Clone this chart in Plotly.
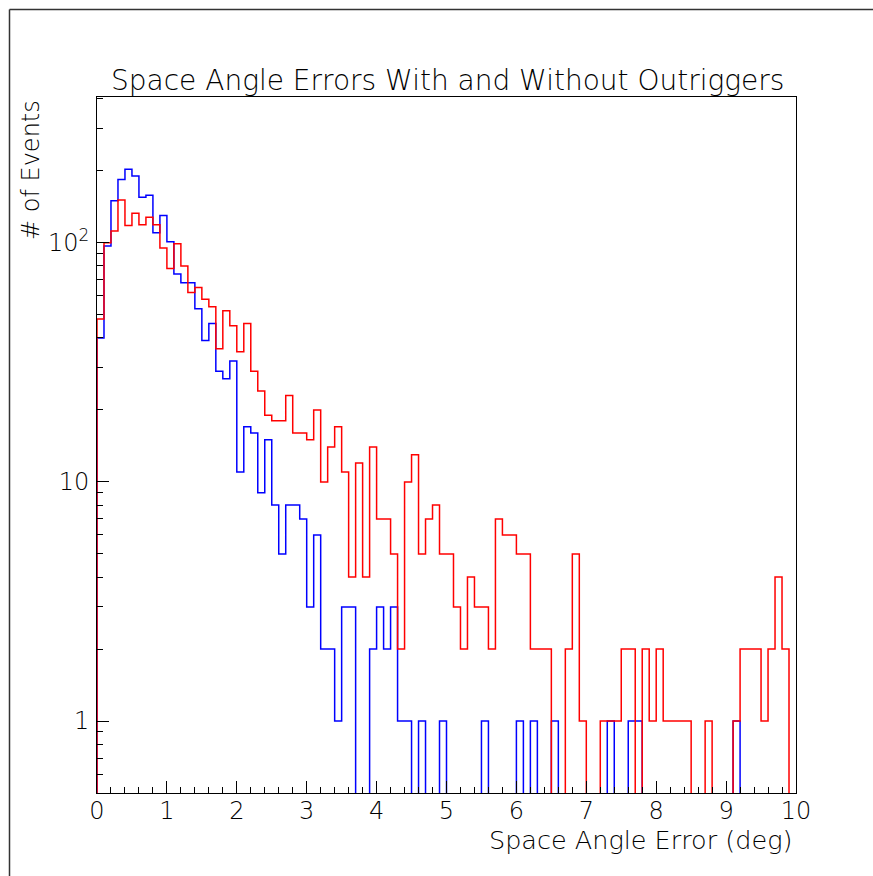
import numpy as np
import plotly.graph_objects as go

# ---- data (counts per 0.1 deg bin, 0..10 deg) ----
X_MIN, X_MAX, N_BINS = 0.0, 10.0, 100

without_outriggers = [  # blue
    40, 97, 150, 184, 203, 190, 155, 158, 110, 130,
    101, 74, 68, 68, 53, 39, 46, 29, 27, 32,
    11, 17, 16, 9, 15, 8, 5, 8, 8, 7,
    3, 6, 2, 2, 1, 3, 3, 0, 0, 2,
    3, 2, 3, 1, 1, 0, 1, 0, 0, 1,
    0, 0, 0, 0, 0, 1, 0, 0, 0, 0,
    1, 0, 1, 0, 0, 1, 0, 0, 0, 0,
    0, 0, 0, 1, 0, 0, 1, 1, 0, 0,
    0, 0, 0, 0, 0, 0, 0, 0, 0, 0,
    0, 1, 0, 0, 0, 0, 0, 0, 0, 0,
]

with_outriggers = [  # red
    48, 100, 112, 151, 118, 133, 119, 128, 119, 95,
    78, 99, 80, 62, 65, 58, 54, 36, 52, 45,
    35, 46, 29, 24, 19, 18, 18, 23, 16, 16,
    15, 20, 10, 14, 17, 11, 4, 12, 4, 14,
    7, 7, 5, 2, 10, 13, 5, 7, 8, 5,
    5, 3, 2, 4, 3, 3, 2, 7, 6, 6,
    5, 5, 2, 2, 2, 0, 0, 2, 5, 1,
    0, 0, 1, 1, 1, 2, 2, 0, 2, 1,
    2, 1, 1, 1, 1, 0, 0, 1, 0, 0,
    0, 1, 2, 2, 2, 1, 2, 4, 2, 0,
]

y_tick_vals = [1, 10, 100]
y_tick_text = ["1", "10", "10<sup>2</sup>"]
Y_MIN, Y_MAX = 0.5, 407.0

edges = np.linspace(X_MIN, X_MAX, N_BINS + 1)
FLOOR = 1e-3  # empty bins fall below the visible log range


def step_xy(counts):
    vals = [c if c > 0 else FLOOR for c in counts]
    xs = [edges[0]] + list(edges[:-1]) + [edges[-1], edges[-1]]
    ys = [FLOOR] + vals + [vals[-1], FLOOR]
    return xs, ys


fig = go.Figure()
for counts, color in [(without_outriggers, "#0000ff"), (with_outriggers, "#ff0000")]:
    xs, ys = step_xy(counts)
    fig.add_trace(go.Scatter(x=xs, y=ys, mode="lines", line_shape="hv",
                             line=dict(color=color, width=1.5),
                             hoverinfo="skip", showlegend=False))

FONT = "DejaVu Sans"
WT = 200
L, R, T, B = 97, 77, 97, 83
W, H = 873, 876
pw, ph = W - L - R, H - T - B


def px(x):
    return (x - L) / pw


def py(y):
    return (H - B - y) / ph


minor_y = [0.6, 0.7, 0.8, 0.9] + [k for k in range(2, 10)] + [10 * k for k in range(2, 10)] + [200, 300, 400]

fig.update_layout(
    width=W, height=H,
    margin=dict(l=L, r=R, t=T, b=B),
    paper_bgcolor="white", plot_bgcolor="white",
    font=dict(family=FONT, color="black", weight=WT),
    xaxis=dict(range=[X_MIN, X_MAX], showline=True, linecolor="black", linewidth=1,
               mirror=True, ticks="inside", ticklen=12, tickwidth=1, tickcolor="black",
               tick0=0, dtick=1, showgrid=False, zeroline=False,
               tickfont=dict(size=24, family=FONT, weight=WT), ticklabelstandoff=-4,
               minor=dict(ticks="inside", ticklen=6, dtick=0.2, tick0=0,
                          tickcolor="black", tickwidth=1, showgrid=False)),
    yaxis=dict(type="log", range=[np.log10(Y_MIN), np.log10(Y_MAX)],
               showline=True, linecolor="black", linewidth=1, mirror=True,
               ticks="inside", ticklen=12, tickwidth=1, tickcolor="black",
               tickmode="array", tickvals=y_tick_vals, ticktext=y_tick_text,
               showgrid=False, zeroline=False,
               tickfont=dict(size=24, family=FONT, weight=WT), ticklabelstandoff=2,
               minor=dict(ticks="inside", ticklen=6, tickmode="array", tickvals=minor_y,
                          tickcolor="black", tickwidth=1, showgrid=False)),
    annotations=[
        dict(text="Space Angle Errors With and Without Outriggers", x=px(447), y=py(80),
             xref="paper", yref="paper", xanchor="center", yanchor="middle",
             showarrow=False, font=dict(size=28, family=FONT, weight=WT)),
        dict(text="Space Angle Error (deg)", x=px(794), y=py(840),
             xref="paper", yref="paper", xanchor="right", yanchor="middle",
             showarrow=False, font=dict(size=25.5, family=FONT, weight=WT)),
        dict(text="# of Events", x=px(31), y=py(98), textangle=-90,
             xref="paper", yref="paper", xanchor="center", yanchor="top",
             showarrow=False, font=dict(size=24, family=FONT, weight=WT)),
    ],
    shapes=[
        dict(type="line", xref="paper", yref="paper", x0=px(9.5), x1=px(9.5),
             y0=py(9.5), y1=py(H + 5), line=dict(color="#333333", width=1.5)),
        dict(type="line", xref="paper", yref="paper", x0=px(9.5), x1=px(W + 5),
             y0=py(9.5), y1=py(9.5), line=dict(color="#333333", width=1.5)),
    ],
)

fig.write_html("out.html")
